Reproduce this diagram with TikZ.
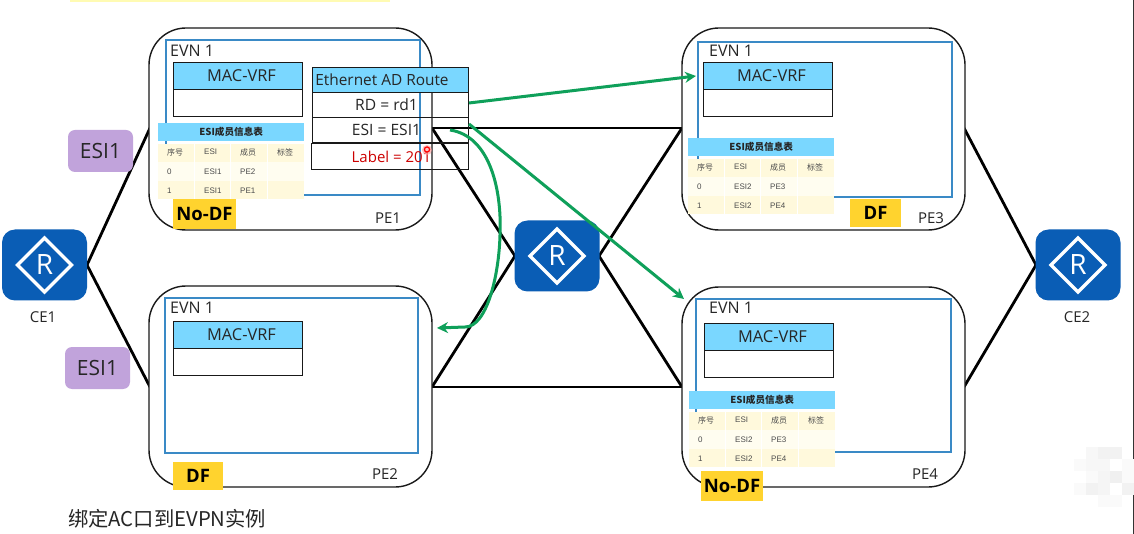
\documentclass[tikz,border=0pt]{standalone}
\usepackage{fontspec}
\setmainfont{Open Sans}
\newfontfamily\cjk{Noto Sans CJK SC}
\newfontfamily\tablefont{Liberation Sans}
\usetikzlibrary{arrows.meta}
\definecolor{routerblue}{HTML}{0A5DB5}
\definecolor{headblue}{HTML}{7AD7FF}
\definecolor{innerblue}{HTML}{3A8AC6}
\definecolor{flowgreen}{HTML}{0FA05A}
\definecolor{tagyellow}{HTML}{FFD32E}
\definecolor{esipurple}{HTML}{C1A3DB}
\definecolor{rowa}{HTML}{FFF9DC}
\definecolor{rowb}{HTML}{FFFDF0}
\tikzset{
  x=1pt,y=-1pt,
  pebox/.style={draw=black!90,line width=1.4pt,rounded corners=37pt,fill=white},
  innerbox/.style={draw=innerblue,line width=1.3pt,fill=white},
  link/.style={draw=black,line width=2.8pt},
  flow/.style={draw=flowgreen,line width=3pt,-{Stealth[length=11pt,width=11pt]}},
  cellbox/.style={draw=black!90,line width=1pt,minimum height=26pt,inner sep=0pt,anchor=north west,font=\fontsize{15.6}{16}\selectfont,text=black!85},
  headcell/.style={cellbox,fill=headblue},
  plabel/.style={font=\fontsize{15}{15}\selectfont,text=black!85,inner sep=0pt},
  evnlabel/.style={font=\fontsize{16}{16}\selectfont,text=black!85,inner sep=0pt,anchor=west},
  taglabel/.style={fill=tagyellow,font=\fontsize{18.5}{18}\selectfont\bfseries,inner sep=0pt,text=black},
  esibox/.style={fill=esipurple,rounded corners=7pt,font=\fontsize{21}{21}\selectfont,inner sep=0pt,minimum width=65pt,minimum height=42pt,text=black!85},
  tabletitle/.style={fill=headblue,minimum width=146pt,minimum height=18pt,inner sep=0pt,font=\cjk\fontsize{9.6}{10}\selectfont\bfseries,anchor=north west,text=black!85},
  tcell/.style={font=\tablefont\fontsize{8}{8}\selectfont,text=black!70,inner sep=0pt,anchor=west},
  tcjk/.style={font=\cjk\fontsize{8}{8}\selectfont,text=black!70,inner sep=0pt,anchor=west},
  routerbody/.style={fill=routerblue,rounded corners=13pt,minimum width=85pt,minimum height=71pt,inner sep=0pt}
}
% Router icon: blue body, white diamond and the letter R
\newcommand{\routericon}[3]{%
  \node[routerbody] (#1) at (#2,#3) {};
  \draw[white,line width=3.4pt] (#2-27,#3) -- (#2,#3-27) -- (#2+27,#3) -- (#2,#3+27) -- cycle;
  \node[text=white,font=\fontsize{28}{28}\selectfont,inner sep=0pt] (#1R) at (#2,#3) {R};
}
% MAC-VRF table
\newcommand{\macvrf}[3]{%
  \node[headcell,minimum width=129pt,minimum height=27pt,font=\fontsize{16.4}{16}\selectfont] (#1h) at (#2,#3) {\hspace*{7pt}MAC-VRF};
  \node[cellbox,fill=white,minimum width=129pt,minimum height=27pt] (#1b) at (#2,#3+27) {};
}
% ESI member table
\newcommand{\esitable}[7]{%
  \node[tabletitle] (#1t) at (#2,#3) {ESI成员信息表};
  \fill[rowa] (#2,#3+21) rectangle (#2+146,#3+39);
  \fill[rowb] (#2,#3+39) rectangle (#2+146,#3+58);
  \fill[rowa] (#2,#3+58) rectangle (#2+146,#3+76);
  \foreach \cx in {36,72,109} \draw[white,line width=1pt] (#2+\cx,#3+21) -- (#2+\cx,#3+76);
  \node[tcjk] at (#2+9,#3+29) {序号};
  \node[tcell] at (#2+46,#3+29) {ESI};
  \node[tcjk] at (#2+82,#3+29) {成员};
  \node[tcjk] at (#2+119,#3+29) {标签};
  \node[tcell] at (#2+9,#3+49) {0};
  \node[tcell] at (#2+46,#3+49) {#4};
  \node[tcell] at (#2+82,#3+49) {#5};
  \node[tcell] at (#2+9,#3+68) {1};
  \node[tcell] at (#2+46,#3+68) {#6};
  \node[tcell] at (#2+82,#3+68) {#7};
}
\begin{document}
\begin{tikzpicture}
\useasboundingbox (0,0) rectangle (1134,534);
\fill[white] (0,0) rectangle (1134,534);
\fill[yellow!30] (70,0) rectangle (390,2);
\fill[black!80] (1133,0) rectangle (1134,534);

% Points that the links attach to
\coordinate (ce1p) at (87,265);
\coordinate (ce2p) at (1036,265);
\coordinate (pe1se) at (432,128);
\coordinate (pe1sw) at (432,387);
\coordinate (pe3w) at (682,128);
\coordinate (pe4w) at (682,387);
\coordinate (pe1w) at (150,128);
\coordinate (pe2w) at (150,387);
\coordinate (pe3e) at (964,128);
\coordinate (pe4e) at (964,387);
\coordinate (corew) at (515,256);
\coordinate (coree) at (599,256);

% Links
\draw[link] (ce1p) -- (pe1w);
\draw[link] (ce1p) -- (pe2w);
\draw[link] (ce2p) -- (pe3e);
\draw[link] (ce2p) -- (pe4e);
\draw[link] (pe1sw) -- (pe4w);
\draw[link] (pe1se) -- (corew) -- (pe1sw);
\draw[link] (pe3w) -- (coree) -- (pe4w);
\draw[link] (pe1se) -- (pe3w);

% PE chassis
\draw[pebox] (149,28) rectangle (432,230);
\draw[pebox] (149,286) rectangle (432,487);
\draw[pebox] (682,28) rectangle (965,230);
\draw[pebox] (682,287) rectangle (965,487);

% EVPN instance frames
\draw[innerbox] (166,40) rectangle (420,195);
\draw[innerbox] (165,298) rectangle (418,453);
\draw[innerbox] (698,42) rectangle (952,197);
\draw[innerbox] (696,299) rectangle (951,452);

\node[evnlabel] (evn1) at (170,51) {EVN 1};
\node[evnlabel] (evn2) at (170,308) {EVN 1};
\node[evnlabel] (evn3) at (709,51) {EVN 1};
\node[evnlabel] (evn4) at (709,308) {EVN 1};

\node[plabel] (pe1) at (388,218) {PE1};
\node[plabel] (pe2) at (385,474) {PE2};
\node[plabel] (pe3) at (931,218) {PE3};
\node[plabel] (pe4) at (925,474) {PE4};

\macvrf{mac1}{173}{62}
\macvrf{mac2}{173}{321}
\macvrf{mac3}{703}{62}
\macvrf{mac4}{704}{323}

\esitable{tab1}{158}{123}{ESI1}{PE2}{ESI1}{PE1}
\esitable{tab3}{688}{138}{ESI2}{PE3}{ESI2}{PE4}
\esitable{tab4}{689}{391}{ESI2}{PE3}{ESI2}{PE4}

% Route fields
\node[headcell,minimum width=156pt,minimum height=25pt,font=\fontsize{15.4}{16}\selectfont] (rh) at (312,67) {\hspace*{-17pt}Ethernet AD Route};
\node[cellbox,minimum width=156pt,minimum height=25pt] (rd) at (312,92) {\hspace*{-8pt}RD = rd1};
\node[cellbox,minimum width=156pt,minimum height=25pt] (esi) at (312,117) {\hspace*{-8pt}ESI = ESI1};
\node[cellbox,minimum width=157pt,minimum height=26pt,text=red!80!black,font=\fontsize{15}{15}\selectfont] (lab) at (311,143) {\hspace*{3pt}Label = 201};

% Pointer mark over the label
\fill[red!40,opacity=.6] (427,150) circle (5pt);
\draw[red,line width=1.2pt] (427,149.5) circle (2.6pt);

% DF role tags
\node[taglabel,minimum width=63pt,minimum height=30pt] (df1) at (204.5,214) {No-DF};
\node[taglabel,minimum width=50pt,minimum height=28pt] (df2) at (198,476) {DF};
\node[taglabel,minimum width=51pt,minimum height=28pt] (df3) at (875.5,213) {DF};
\node[taglabel,minimum width=62pt,minimum height=30pt] (df4) at (732,486) {No-DF};

% Ethernet segment labels
\node[esibox] (esi1a) at (100.5,151) {ESI1};
\node[esibox] (esi1b) at (97.5,368) {ESI1};

% Routers
\routericon{ce1}{44.5}{265}
\routericon{core}{557}{256}
\routericon{ce2}{1078}{265}
\node[plabel] (ce1l) at (43,317) {CE1};
\node[plabel] (ce2l) at (1077,317) {CE2};

% Route advertisements
\coordinate (fa) at (469,103);
\coordinate (fb) at (469,124);
\coordinate (pe3in) at (696,76);
\coordinate (pe4in) at (684,299);
\coordinate (pe2in) at (437,328);
\draw[flow] (fa) -- (pe3in);
\draw[flow] (fb) -- (pe4in);
\draw[flow] (450,130) .. controls (490,136) and (502,190) .. (500,235) .. controls (499,275) and (487,327) .. (465,327) -- (pe2in);

% Caption
\node[anchor=west,inner sep=0pt,font=\cjk\fontsize{20.3}{20}\selectfont,text=black!85] (cap) at (68,519) {绑定AC口到EVPN实例};

% Soft mosaic patch in the corner
\foreach \mx/\my/\mv in {1086/447/3,1098/447/5,1110/447/5,1074/459/2,1086/459/3,1098/459/3,1122/459/2,1086/471/2,1098/471/4,1110/471/6,1122/471/2,1086/483/5,1098/483/4,1122/483/5,1074/483/2,1098/495/2,1110/495/2}
  \fill[black!\mv] (\mx,\my) rectangle ++(12,12);
\end{tikzpicture}
\end{document}
